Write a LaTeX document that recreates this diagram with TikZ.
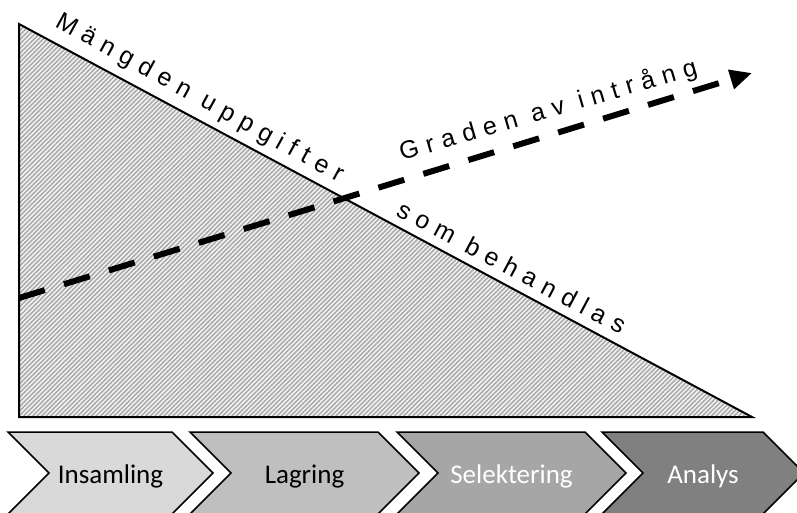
\documentclass[tikz,border=0pt]{standalone}
\usepackage{fontspec}
\setmainfont{Liberation Sans}
\newfontfamily\stepfont{Carlito}
\usetikzlibrary{patterns.meta,arrows.meta}
\begin{document}
\begin{tikzpicture}[x=1pt,y=-1pt,
  spaced/.style={font=\fontsize{25}{29}\selectfont\addfontfeature{LetterSpace=31},
    inner sep=0pt, anchor=base west},
  chevron/.style={draw=black, line width=1.5pt, line join=miter},
  steplabel/.style={font=\stepfont\fontsize{27}{30}\selectfont, inner sep=0pt, anchor=base}]
\useasboundingbox (0,0) rectangle (797,512);
\clip (0,0) rectangle (797,512);

% hatched wedge: amount of data handled
\coordinate (T) at (19,24);
\coordinate (B) at (19,417);
\coordinate (R) at (752,417);
\draw[line width=2pt, line join=miter, preaction={fill=gray!10},
  pattern={Lines[angle=45,distance=3.2pt,line width=1.4pt]}, pattern color=gray!70]
  (T) -- (B) -- (R) -- cycle;

% dashed arrow: degree of intrusion
\coordinate (S) at (19,298);
\coordinate (E) at (752,73);
\draw[line width=6pt, dash pattern=on 27pt off 20pt,
  -{Triangle[length=22pt,width=19pt]}] (S) -- (E);

% labels along the lines
\node[spaced, rotate=-28.8] (amount) at (54,26) {Mängden uppgifter};
\node[spaced, rotate=-28.0] (handled) at (395,215) {som behandlas};
\node[spaced, rotate=16.3] (degree) at (402,161) {Graden av intrång};

% process chevrons
\foreach \a/\b/\shade/\ink/\txt/\nm in {
    8/172/gray!30/black/Insamling/c1,
    190/378/gray!50/black/Lagring/c2,
    397/585/gray!70/white/Selektering/c3,
    602/763/gray/white/Analys/c4}{
  \draw[chevron, fill=\shade]
    (\a,432) -- (\b,432) -- (\b+41,473) -- (\b,514) -- (\a,514) -- (\a+41,473) -- cycle;
  \node[steplabel, text=\ink] (\nm) at ({(\a+41+\b)/2},483) {\txt};
}
\end{tikzpicture}
\end{document}
